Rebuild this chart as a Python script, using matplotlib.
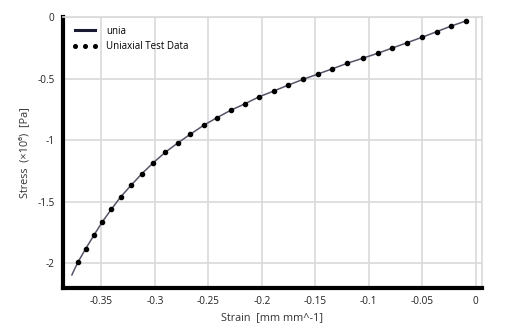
import matplotlib
matplotlib.use('Agg')
import matplotlib.pyplot as plt
from matplotlib.lines import Line2D

plt.rcParams['font.family'] = ['Open Sans', 'DejaVu Sans']

# test data points (strain, stress x1e6)
strain_pts = [-0.3721, -0.3649, -0.3571, -0.3493, -0.3408, -0.3321, -0.3221, -0.3122,
              -0.3015, -0.2903, -0.2787, -0.2669, -0.2544, -0.2419, -0.2291, -0.2157,
              -0.2029, -0.1889, -0.1751, -0.1614, -0.1476, -0.1339, -0.1202, -0.1058,
              -0.0918, -0.0781, -0.0643, -0.0503, -0.0365, -0.0228, -0.0091]
stress_pts = [-1.991, -1.883, -1.772, -1.664, -1.561, -1.461, -1.364, -1.272,
              -1.183, -1.098, -1.023, -0.952, -0.879, -0.817, -0.757, -0.704,
              -0.649, -0.601, -0.552, -0.506, -0.463, -0.420, -0.376, -0.335,
              -0.295, -0.252, -0.209, -0.165, -0.119, -0.073, -0.032]

# fitted curve "unia"
strain_fit = [-0.3777] + strain_pts
stress_fit = [-2.094] + stress_pts

xticks = [-0.35, -0.3, -0.25, -0.2, -0.15, -0.1, -0.05, 0]
xticklabels = ['-0.35', '-0.3', '-0.25', '-0.2', '-0.15', '-0.1', '-0.05', '0']
yticks = [0, -0.5, -1, -1.5, -2]
yticklabels = ['0', '-0.5', '-1', '-1.5', '-2']

fig = plt.figure(figsize=(5.14, 3.34), dpi=100)
ax = fig.add_axes([0.1226, 0.1386, 0.937 - 0.1226, 0.949 - 0.1386])

ax.plot(strain_fit, stress_fit, color='#55556a', lw=1.1, zorder=3)
ax.plot(strain_pts, stress_pts, ls='none', marker='o', ms=3.0, color='black', zorder=4)

ax.set_xlim(-0.386, 0.0056)
ax.set_ylim(-2.198, 0)
ax.set_xticks(xticks)
ax.set_xticklabels(xticklabels)
ax.set_yticks(yticks)
ax.set_yticklabels(yticklabels)
ax.tick_params(labelsize=7.2, length=0, pad=6, colors='#222222')

ax.grid(True, color='#d9d9d9', lw=1.2)
ax.set_axisbelow(True)
for s in ['top', 'right']:
    ax.spines[s].set_color('#d9d9d9')
    ax.spines[s].set_linewidth(1.2)
for s in ['left', 'bottom']:
    ax.spines[s].set_color('black')
    ax.spines[s].set_linewidth(3)

ax.set_xlabel('Strain  [mm mm^-1]', fontsize=7.8, color='#333333', labelpad=4)
ax.set_ylabel('Stress  (\u00d710\u2076)  [Pa]', fontsize=7.8, color='#333333', labelpad=5)

handles = [Line2D([], [], color='#1a1a33', lw=2.2),
           Line2D([], [], ls='none', marker='o', ms=2.6, color='black')]
ax.legend(handles, ['unia', 'Uniaxial Test Data'], loc='upper left', frameon=False,
          fontsize=7, handlelength=2.7, handletextpad=0.8, labelspacing=0.45,
          borderaxespad=0.5, numpoints=3)

fig.savefig('out.png', dpi=100)
